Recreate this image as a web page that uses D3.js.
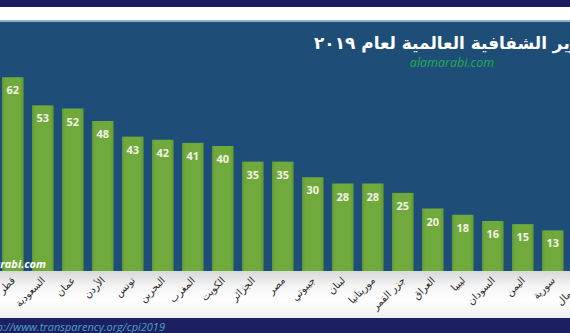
<!DOCTYPE html>
<html><head><meta charset="utf-8">
<script src="https://cdn.jsdelivr.net/npm/d3@7"></script>
<style>html,body{margin:0;padding:0;background:#fff;overflow:hidden}svg{display:block}</style>
</head><body>
<script>
const countries = ["الإمارات","قطر","السعودية","عمان","الأردن","تونس","البحرين","المغرب","الكويت","الجزائر","مصر","جيبوتي","لبنان","موريتانيا","جزر القمر","العراق","ليبيا","السودان","اليمن","سورية","الصومال"];
const scores = [71,62,53,52,48,43,42,41,40,35,35,30,28,28,25,20,18,16,15,13,9];
const titleText = "مؤشر مدركات الفساد حسب تقرير الشفافية العالمية لعام ٢٠١٩";
const titleVisible = "ير الشفافية العالمية لعام ٢٠١٩";
const siteText = "alamarabi.com";
const sourceText = "http://www.transparency.org/cpi2019";

const W = 570, H = 333;
const svg = d3.select("body").append("svg").attr("width", W).attr("height", H);
const defs = svg.append("defs");

const gBand = defs.append("linearGradient").attr("id","band").attr("x1",0).attr("y1",0).attr("x2",0).attr("y2",1);
[[0,"#d6d8da"],[0.3,"#f3f3f3"],[0.6,"#ffffff"],[1,"#eeeeee"]].forEach(s=>gBand.append("stop").attr("offset",s[0]).attr("stop-color",s[1]));
const gBar = defs.append("linearGradient").attr("id","bar").attr("x1",0).attr("y1",0).attr("x2",1).attr("y2",0);
[[0,"#5f9832"],[0.15,"#70a93c"],[0.85,"#70a93c"],[1,"#5f9832"]].forEach(s=>gBar.append("stop").attr("offset",s[0]).attr("stop-color",s[1]));

// background layers
svg.append("rect").attr("x",0).attr("y",0).attr("width",W).attr("height",7).attr("fill","#1b1d62");
svg.append("rect").attr("x",0).attr("y",7).attr("width",W).attr("height",14).attr("fill","#ffffff");
svg.append("rect").attr("x",0).attr("y",20).attr("width",W).attr("height",2).attr("fill","#8fb3cc");
svg.append("rect").attr("x",0).attr("y",22).attr("width",W).attr("height",249).attr("fill","#1e4e78");
svg.append("rect").attr("x",0).attr("y",271).attr("width",W).attr("height",48).attr("fill","url(#band)");
svg.append("rect").attr("x",0).attr("y",318).attr("width",W).attr("height",15).attr("fill","#1c2062");

const x = d3.scaleBand().domain(countries).range([-32.2, 597.8]).paddingInner(0.28).paddingOuter(0.14);
const y = d3.scaleLinear().domain([0, 80]).range([271, 21]);

svg.append("g").selectAll("rect").data(scores).join("rect")
  .attr("x",(d,i)=>x(countries[i]))
  .attr("y",d=>y(d))
  .attr("width",x.bandwidth())
  .attr("height",d=>y(0)-y(d))
  .attr("fill","url(#bar)");

svg.append("g").selectAll("text").data(scores).join("text")
  .attr("x",(d,i)=>x(countries[i])+x.bandwidth()/2)
  .attr("y",d=>y(d)+17)
  .attr("text-anchor","middle")
  .attr("font-family","Open Sans, DejaVu Sans, sans-serif")
  .attr("font-weight","bold")
  .attr("font-size",11)
  .attr("fill","#f3f3e6")
  .text(d=>d);

const axis = svg.append("g").attr("transform","translate(0,271)")
  .call(d3.axisBottom(x).tickSize(0).tickPadding(0));
axis.select(".domain").remove();
axis.selectAll("text")
  .attr("font-family","DejaVu Sans, sans-serif")
  .attr("font-size",10)
  .attr("fill","#2a2a2a")
  .attr("text-anchor","end")
  .attr("y",0).attr("dy",0)
  .attr("transform","translate(3,10) rotate(-45)");

// title
const title = svg.append("text")
  .attr("font-family","DejaVu Sans, sans-serif")
  .attr("font-weight","bold")
  .attr("fill","#ffffff")
  .attr("y",49)
  .attr("font-size",100)
  .text(titleVisible);
const wVis100 = title.node().getComputedTextLength();
const fs = 100 * 256 / wVis100;
title.attr("font-size",fs).text(titleText);
title.attr("text-anchor","start").attr("x",314);

svg.append("text").attr("x",452).attr("y",67).attr("text-anchor","middle")
  .attr("font-family","Open Sans, DejaVu Sans, sans-serif").attr("font-style","italic")
  .attr("font-size",12.5).attr("fill","#1fae4c").text(siteText);

svg.append("text").attr("x",46).attr("y",268).attr("text-anchor","end")
  .attr("font-family","Open Sans, DejaVu Sans, sans-serif").attr("font-style","italic").attr("font-weight","bold")
  .attr("font-size",11).attr("fill","#ffffff").text(siteText);

svg.append("text").attr("x",165).attr("y",331).attr("text-anchor","end")
  .attr("font-family","Open Sans, DejaVu Sans, sans-serif").attr("font-style","italic")
  .attr("font-size",11).attr("fill","#4aa3c2").text(sourceText);
</script>
</body></html>
